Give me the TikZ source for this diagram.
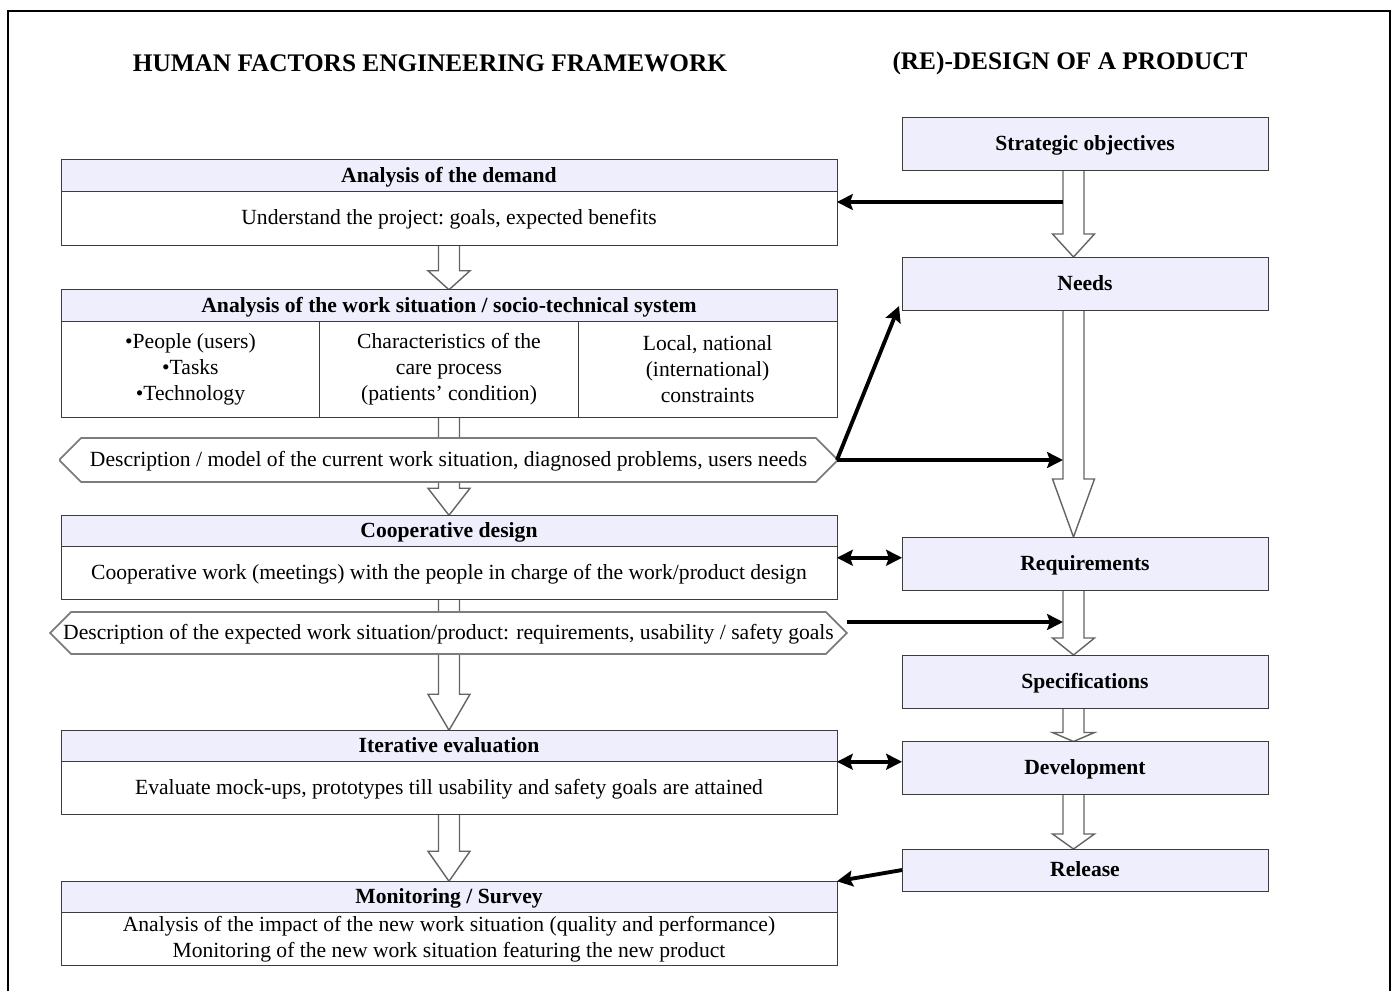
\documentclass[tikz,border=0pt]{standalone}
\usepackage{fontspec}
\setmainfont{Liberation Serif}
\usetikzlibrary{positioning,calc,shapes.misc,arrows.meta,backgrounds}

\definecolor{hdrblue}{RGB}{238,238,252}
\definecolor{boxline}{RGB}{60,60,60}
\definecolor{flowgray}{RGB}{125,125,125}

% hollow block arrow: from node, to node, x offset, head length
\newcommand{\flowarrow}[4]{%
  \filldraw[flow arrow] ($(#1.south)+(#3-10.5,0)$) -- ($(#2.north)+(#3-10.5,-#4)$)
    -- ($(#2.north)+(#3-21,-#4)$) -- ($(#2.north)+(#3,0)$) -- ($(#2.north)+(#3+21,-#4)$)
    -- ($(#2.north)+(#3+10.5,-#4)$) -- ($(#1.south)+(#3+10.5,0)$);}

\begin{document}
\begin{tikzpicture}[x=0.02cm,y=-0.02cm,
    oneline/.style={text height=10pt,text depth=2.5pt},
    hdr/.style={draw=boxline,fill=hdrblue,minimum width=15.52cm,minimum height=0.63cm,inner sep=0pt,outer sep=0pt,oneline,font=\bfseries\fontsize{12.3}{14}\selectfont},
    body/.style={draw=boxline,fill=white,minimum width=15.52cm,minimum height=1.06cm,inner sep=0pt,outer sep=0pt,align=center,font=\fontsize{12.3}{14.5}\selectfont},
    col/.style={body,minimum width=5.173cm,minimum height=1.92cm,font=\fontsize{12.3}{15}\selectfont},
    desc/.style={chamfered rectangle,chamfered rectangle xsep=0.22cm,chamfered rectangle ysep=0.2cm,draw=flowgray,line width=1pt,fill=white,inner sep=0pt,outer sep=0pt,oneline,font=\fontsize{12.3}{14.5}\selectfont},
    stage/.style={draw=boxline,fill=hdrblue,minimum width=7.32cm,minimum height=1.06cm,inner sep=0pt,outer sep=0pt,oneline,font=\bfseries\fontsize{12.3}{14}\selectfont},
    title/.style={font=\bfseries\fontsize{14.4}{17}\selectfont},
    flow arrow/.style={draw=flowgray!80!black,fill=white,line width=0.8pt},
    link/.style={line width=2.2pt,-{Stealth[length=9pt,width=9pt,inset=1.5pt]}},
    twoway/.style={{Stealth[length=9pt,width=9pt,inset=1.5pt]}-{Stealth[length=9pt,width=9pt,inset=1.5pt]}}]
    \useasboundingbox (0, 0) rectangle (1393, 991);
    \draw[line width=0.8pt] (8, 991) -- (8, 11) -- (1390, 11) -- (1390, 991);

    \node[title] at (430, 63) (hfe) {HUMAN FACTORS ENGINEERING FRAMEWORK};
    \node[title] at (1070, 63) (redesign) {(RE)-DESIGN OF A PRODUCT};

    \node[hdr] at (449, 175.5) (demandh) {Analysis of the demand};
    \node[body, oneline, below=0pt of demandh, minimum height=1.08cm] (demandb) {Understand the project:\ goals, expected benefits};

    \node[hdr] at (449, 305.5) (wsh) {Analysis of the work situation / socio-technical system};
    \node[col, below=0pt of wsh] (wsB) {Characteristics of the\\care process\\(patients’ condition)};
    \node[col, left=0pt of wsB] (wsA) {•People (users)\\•Tasks\\•Technology};
    \node[col, right=0pt of wsB] (wsC) {Local, national\\(international)\\constraints};

    \node[desc, minimum width=15.54cm, minimum height=0.88cm] at (448.5, 460) (current) {Description / model of the current work situation, diagnosed problems, users needs};

    \node[hdr] at (449, 531) (cooph) {Cooperative design};
    \node[body, oneline, below=0pt of cooph] (coopb) {Cooperative work (meetings) with the people in charge of the work/product design};

    \node[desc, minimum width=15.94cm, minimum height=0.84cm] at (448.5, 633) (expected) {Description of the expected work situation/product: requirements, usability / safety goals};

    \node[hdr] at (449, 746) (iterh) {Iterative evaluation};
    \node[body, oneline, below=0pt of iterh] (iterb) {Evaluate mock-ups, prototypes till usability and safety goals are attained};

    \node[hdr] at (449, 897) (monh) {Monitoring / Survey};
    \node[body, below=0pt of monh] (monb) {Analysis of the impact of the new work situation (quality and performance)\\Monitoring of the new work situation featuring the new product};

    \node[stage] at (1085, 143.5) (objectives) {Strategic objectives};
    \node[stage] at (1085, 283.5) (needs) {Needs};
    \node[stage] at (1085, 563.5) (requirements) {Requirements};
    \node[stage] at (1085, 681.5) (specs) {Specifications};
    \node[stage] at (1085, 768) (development) {Development};
    \node[stage, minimum height=0.84cm] at (1085, 870) (release) {Release};

    \begin{scope}[on background layer]
        \flowarrow{demandb}{wsh}{0}{19}
        \flowarrow{wsB}{cooph}{0}{27}
        \flowarrow{coopb}{iterh}{0}{36}
        \flowarrow{iterb}{monh}{0}{30}
        \flowarrow{objectives}{needs}{-11.5}{23}
        \flowarrow{needs}{requirements}{-11.5}{58}
        \flowarrow{requirements}{specs}{-11.5}{17}
        \flowarrow{specs}{development}{-11.5}{9}
        \flowarrow{development}{release}{-11.5}{15}
    \end{scope}

    \coordinate (objtap) at (1063, 202);
    \coordinate (needtap) at (1063, 460);
    \coordinate (reqtap) at (1063, 622);
    \coordinate (coopmid) at ([shift={(0,11)}]coopb.north east);

    \path[link]
        (objtap) edge (demandb.east |- objtap)
        (current.east) edge ([shift={(-3,-4)}]needs.south west)
        (current.east) edge (needtap)
        (expected.east |- reqtap) edge (reqtap)
        (release.west) edge (monh.north east)
        (coopmid) edge[twoway] (coopmid -| requirements.west)
        (iterb.north east) edge[twoway] (iterb.north east -| development.west)
        ;
\end{tikzpicture}
\end{document}
